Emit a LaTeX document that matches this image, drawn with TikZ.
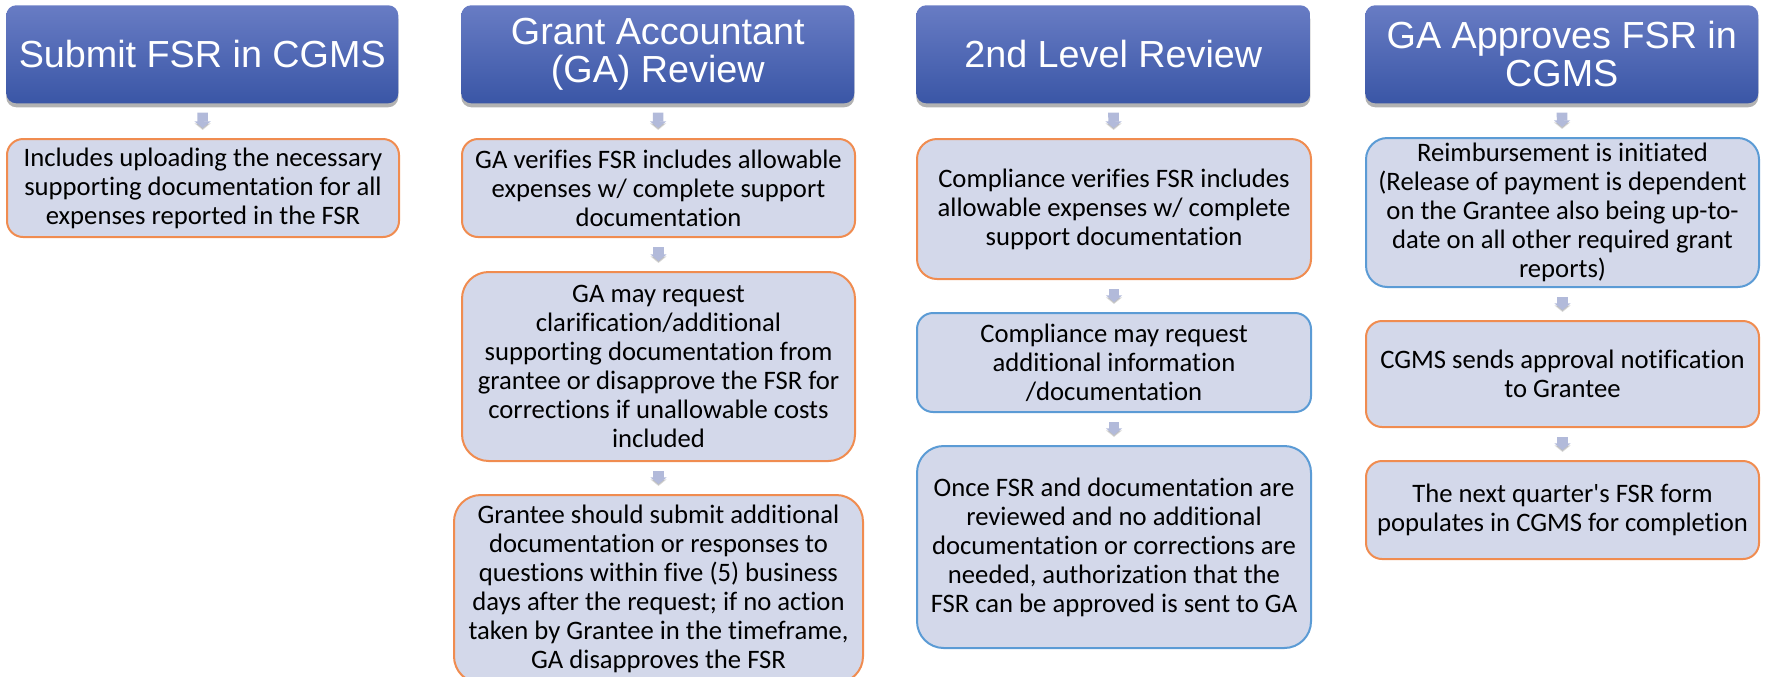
\documentclass[tikz,border=0pt]{standalone}
\usepackage{fontspec}
\setmainfont{Carlito}[Ligatures=NoCommon]
\newfontfamily\headfont{Liberation Sans}
\usetikzlibrary{arrows.meta,shadows}
\definecolor{hdtop}{RGB}{104,124,196}
\definecolor{hdbot}{RGB}{58,86,166}
\definecolor{bodyfill}{RGB}{211,216,234}
\definecolor{orangeline}{RGB}{240,140,80}
\definecolor{blueline}{RGB}{91,155,213}
\definecolor{arrowfill}{RGB}{178,186,218}
\begin{document}
\begin{tikzpicture}[x=0.75pt,y=-0.75pt,
 header/.style={anchor=north west, inner sep=2pt, rounded corners=7.5pt,
   top color=hdtop, bottom color=hdbot, draw=none, text=white, align=center,
   font=\headfont\fontsize{28.3}{28.5}\selectfont,
   drop shadow={shadow xshift=0pt, shadow yshift=-3pt, opacity=0.3, fill=black}},
 bodybox/.style={anchor=north west, fill=bodyfill, line width=1.5pt, align=center,
   font=\fontsize{20}{21.75}\selectfont, inner sep=2pt},
 obox/.style={bodybox, draw=orangeline},
 bbox/.style={bodybox, draw=blueline},
 flow/.style={line width=8pt, draw=arrowfill, -{Triangle[width=12pt,length=5pt]},
   shorten <=6.75pt, shorten >=7.5pt,
   preaction={draw=black!60, opacity=0.25, transform canvas={yshift=-1.5pt}}}]
\useasboundingbox (0,0) rectangle (1765,676);

% Column 1
\node[header, minimum width=294pt, minimum height=73.5pt] (h1) at (6,5) {Submit FSR in CGMS};
\node[obox, minimum width=294pt, minimum height=73.5pt, rounded corners=12pt] (a1) at (6,138)
  {Includes uploading the necessary\\ supporting documentation for all\\ expenses reported in the FSR};

% Column 2
\node[header, minimum width=294.75pt, minimum height=73.5pt] (h2) at (461,5) {Grant Accountant\\(GA) Review};
\node[obox, minimum width=294.75pt, minimum height=73.5pt, rounded corners=12pt] (b1) at (461,138)
  {GA verifies FSR includes allowable\\ expenses w/ complete support\\ documentation};
\node[obox, minimum width=294.75pt, minimum height=141.75pt, rounded corners=20pt] (b2) at (461,271)
  {GA may request\\ clarification/additional\\ supporting documentation from\\ grantee or disapprove the FSR for\\ corrections if unallowable costs\\ included};
\node[obox, minimum width=306.75pt, minimum height=141pt, rounded corners=20pt] (b3) at (453,494)
  {Grantee should submit additional\\ documentation or responses to\\ questions within five (5) business\\ days after the request; if no action\\ taken by Grantee in the timeframe,\\ GA disapproves the FSR};

% Column 3
\node[header, minimum width=295.5pt, minimum height=73.5pt] (h3) at (916,5) {2nd Level Review};
\node[obox, minimum width=295.5pt, minimum height=105pt, rounded corners=15pt] (c1) at (916,138)
  {Compliance verifies FSR includes\\ allowable expenses w/ complete\\ support documentation};
\node[bbox, minimum width=295.5pt, minimum height=74.25pt, rounded corners=12pt] (c2) at (916,312)
  {Compliance may request\\ additional information\\ /documentation};
\node[bbox, minimum width=295.5pt, minimum height=151.5pt, rounded corners=20pt] (c3) at (916,445)
  {Once FSR and documentation are\\ reviewed and no additional\\ documentation or corrections are\\ needed, authorization that the\\ FSR can be approved is sent to GA};

% Column 4
\node[header, minimum width=294.75pt, minimum height=73.5pt] (h4) at (1365,5) {GA Approves FSR in\\ CGMS};
\node[bbox, minimum width=294.75pt, minimum height=111.75pt, rounded corners=16pt] (d1) at (1365,137)
  {Reimbursement is initiated\\ (Release of payment is dependent\\ on the Grantee also being up-to-\\ date on all other required grant\\ reports)};
\node[obox, minimum width=294.75pt, minimum height=79.5pt, rounded corners=12pt] (d2) at (1365,320)
  {CGMS sends approval notification\\ to Grantee};
\node[obox, minimum width=294.75pt, minimum height=73.5pt, rounded corners=12pt] (d3) at (1365,460)
  {The next quarter\textquotesingle s FSR form\\ populates in CGMS for completion};

% Connectors
\draw[flow] (h1) -- (a1);
\draw[flow] (h2) -- (b1);
\draw[flow] (b1) -- (b2);
\draw[flow] (b2) -- (b3);
\draw[flow] (h3) -- (c1);
\draw[flow] (c1) -- (c2);
\draw[flow] (c2) -- (c3);
\draw[flow] (h4) -- (d1);
\draw[flow] (d1) -- (d2);
\draw[flow] (d2) -- (d3);
\end{tikzpicture}
\end{document}
